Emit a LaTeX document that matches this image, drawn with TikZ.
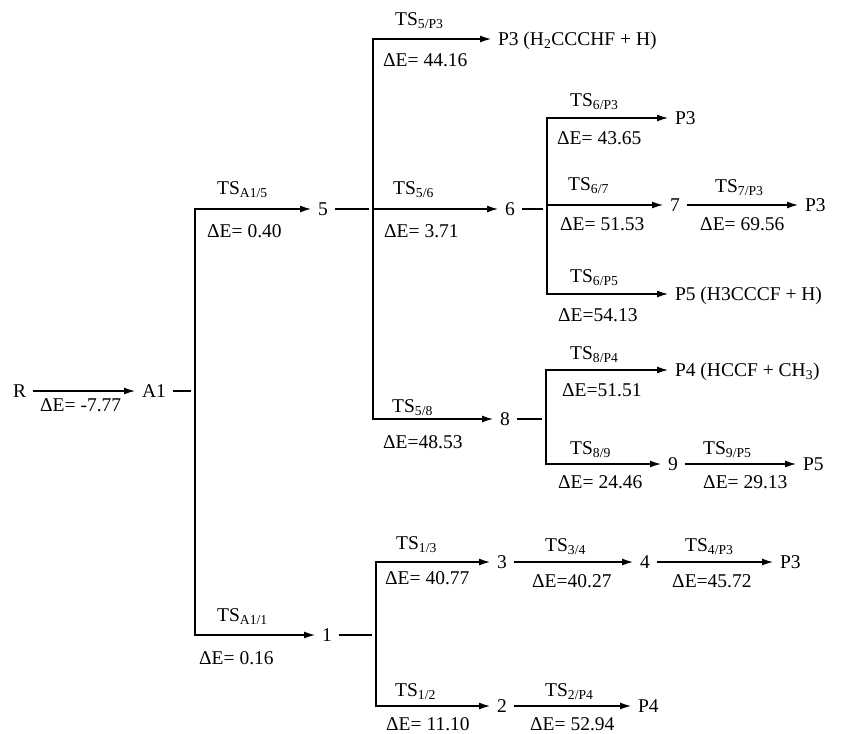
\documentclass[tikz,border=0pt]{standalone}
\usepackage{fontspec}
\setmainfont{Liberation Serif}
\usetikzlibrary{arrows.meta}
\begin{document}
\begin{tikzpicture}[x=1pt,y=-1pt,
  every node/.style={font=\fontsize{19.5}{22}\selectfont},
  sp/.style={anchor=west,inner xsep=7pt,inner ysep=0pt,text height=12.9pt,text depth=0pt,outer sep=0pt},
  lab/.style={anchor=west,inner sep=0pt,text height=12.9pt,text depth=0pt},
  ln/.style={line width=1.3pt},
  vln/.style={ln,line cap=rect},
  arr/.style={ln,-{Latex[length=11pt,width=7pt]}},
  tail/.style={ln,shorten >=4pt}]
\fill[white] (0,0) rectangle (842,733);
\useasboundingbox (0,0) rectangle (842,733);

% species
\node[sp] (R) at (6,391) {R};
\node[sp] (A1) at (135,391) {A1};
\node[sp] (n5) at (311,209) {5};
\node[sp] (n6) at (498,209) {6};
\node[sp] (P3a) at (491,39) {P3 (H\textsubscript{2}CCCHF + H)};
\node[sp] (P3b) at (668,118) {P3};
\node[sp] (n7) at (663,205) {7};
\node[sp] (P3c) at (798,205) {P3};
\node[sp] (P5a) at (668,294) {P5 (H3CCCF + H)};
\node[sp] (n8) at (493,419) {8};
\node[sp] (P4a) at (668,370) {P4 (HCCF + CH\textsubscript{3})};
\node[sp] (n9) at (661,464) {9};
\node[sp] (P5b) at (796,464) {P5};
\node[sp] (n1) at (315,635) {1};
\node[sp] (n3) at (490,562) {3};
\node[sp] (n4) at (633,562) {4};
\node[sp] (P3d) at (773,562) {P3};
\node[sp] (n2) at (490,706) {2};
\node[sp] (P4b) at (631,706) {P4};

% junctions
\coordinate (jA) at (195,391);
\coordinate (jAt) at (195,209);
\coordinate (jAb) at (195,635);
\coordinate (j5) at (373,209);
\coordinate (j5t) at (373,39);
\coordinate (j5b) at (373,419);
\coordinate (j6) at (547,209);
\coordinate (j6t) at (547,118);
\coordinate (j6m) at (547,205);
\coordinate (j6b) at (547,294);
\coordinate (j8) at (546,419);
\coordinate (j8t) at (546,370);
\coordinate (j8b) at (546,464);
\coordinate (j1) at (376,635);
\coordinate (j1t) at (376,562);
\coordinate (j1b) at (376,706);

% connectors
\draw[arr] (R) -- (A1);
\draw[tail] (A1) -- (jA);
\draw[vln] (jAt) -- (jAb);
\draw[arr] (jAt) -- (n5);
\draw[arr] (jAb) -- (n1);
\draw[tail] (n5) -- (j5);
\draw[vln] (j5t) -- (j5b);
\draw[arr] (j5t) -- (P3a);
\draw[arr] (j5) -- (n6);
\draw[arr] (j5b) -- (n8);
\draw[tail] (n6) -- (j6);
\draw[vln] (j6t) -- (j6b);
\draw[arr] (j6t) -- (P3b);
\draw[arr] (j6m) -- (n7);
\draw[arr] (j6b) -- (P5a);
\draw[arr] (n7) -- (P3c);
\draw[tail] (n8) -- (j8);
\draw[vln] (j8t) -- (j8b);
\draw[arr] (j8t) -- (P4a);
\draw[arr] (j8b) -- (n9);
\draw[arr] (n9) -- (P5b);
\draw[tail] (n1) -- (j1);
\draw[vln] (j1t) -- (j1b);
\draw[arr] (j1t) -- (n3);
\draw[arr] (j1b) -- (n2);
\draw[arr] (n3) -- (n4);
\draw[arr] (n4) -- (P3d);
\draw[arr] (n2) -- (P4b);

% labels
\node[lab] (eRA) at (40,405) {ΔE= -7.77};
\node[lab] (tA5) at (217,188) {TS\textsubscript{A1/5}};
\node[lab] (eA5) at (207,231) {ΔE= 0.40};
\node[lab] (t56) at (393,188) {TS\textsubscript{5/6}};
\node[lab] (e56) at (384,231) {ΔE= 3.71};
\node[lab] (t5P) at (395,19) {TS\textsubscript{5/P3}};
\node[lab] (e5P) at (383,60) {ΔE= 44.16};
\node[lab] (t6P3) at (570,100) {TS\textsubscript{6/P3}};
\node[lab] (e6P3) at (557,138) {ΔE= 43.65};
\node[lab] (t67) at (568,184) {TS\textsubscript{6/7}};
\node[lab] (e67) at (560,224) {ΔE= 51.53};
\node[lab] (t7P) at (715,186) {TS\textsubscript{7/P3}};
\node[lab] (e7P) at (700,224) {ΔE= 69.56};
\node[lab] (t6P5) at (570,276) {TS\textsubscript{6/P5}};
\node[lab] (e6P5) at (558,315) {ΔE=54.13};
\node[lab] (t58) at (392,406) {TS\textsubscript{5/8}};
\node[lab] (e58) at (383,442) {ΔE=48.53};
\node[lab] (t8P) at (570,353) {TS\textsubscript{8/P4}};
\node[lab] (e8P) at (562,390) {ΔE=51.51};
\node[lab] (t89) at (570,448) {TS\textsubscript{8/9}};
\node[lab] (e89) at (558,482) {ΔE= 24.46};
\node[lab] (t9P) at (703,448) {TS\textsubscript{9/P5}};
\node[lab] (e9P) at (703,482) {ΔE= 29.13};
\node[lab] (tA1) at (217,615) {TS\textsubscript{A1/1}};
\node[lab] (eA1) at (199,658) {ΔE= 0.16};
\node[lab] (t13) at (396,543) {TS\textsubscript{1/3}};
\node[lab] (e13) at (385,578) {ΔE= 40.77};
\node[lab] (t34) at (545,545) {TS\textsubscript{3/4}};
\node[lab] (e34) at (532,581) {ΔE=40.27};
\node[lab] (t4P) at (685,545) {TS\textsubscript{4/P3}};
\node[lab] (e4P) at (672,581) {ΔE=45.72};
\node[lab] (t12) at (395,690) {TS\textsubscript{1/2}};
\node[lab] (e12) at (386,724) {ΔE= 11.10};
\node[lab] (t2P) at (545,690) {TS\textsubscript{2/P4}};
\node[lab] (e2P) at (530,724) {ΔE= 52.94};
\end{tikzpicture}
\end{document}
